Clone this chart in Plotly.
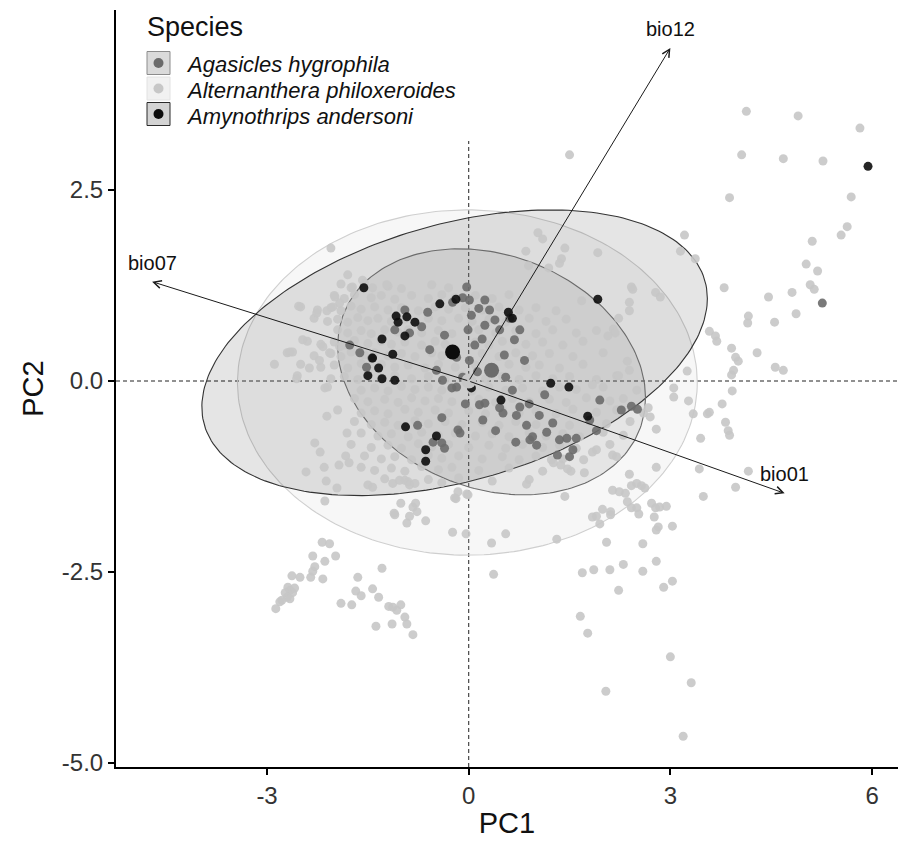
import numpy as np
import plotly.graph_objects as go

# ---------------- data (PC scores) ----------------
species = ["Agasicles hygrophila", "Alternanthera philoxeroides", "Amynothrips andersoni"]

# Alternanthera philoxeroides: outliers upper right
alt_upper_right = [
    (1.50, 2.96), (4.06, 2.96), (4.68, 2.91), (5.27, 2.88), (3.88, 2.40), (5.69, 2.41),
    (3.21, 1.91), (5.63, 2.02), (5.54, 1.91), (5.11, 1.83), (3.15, 1.70), (3.37, 1.60),
    (5.02, 1.53), (5.19, 1.44), (5.08, 1.26), (5.14, 1.20), (3.80, 1.22), (4.46, 1.10),
    (4.81, 1.16), (4.16, 0.85), (4.15, 0.76), (4.55, 0.77), (4.87, 0.88), (3.58, 0.65),
    (3.67, 0.59), (3.69, 0.52), (3.91, 0.43), (3.97, 0.31), (4.01, 0.26), (4.29, 0.37),
    (3.94, 0.14), (3.91, 0.08), (4.56, 0.18), (4.68, 0.14), (3.25, 0.13), (3.92, -0.13),
    (3.05, -0.09), (4.13, 3.53), (4.90, 3.47), (5.82, 3.31),
    (1.92, 1.68), (1.03, 1.94), (1.10, 1.86), (0.85, 1.70), (1.43, 1.74), (1.38, 1.60),
    (1.35, 1.54), (0.89, 1.51), (1.19, 1.48), (2.42, 1.23), (2.44, 1.20), (2.78, 1.16),
    (2.85, 1.10), (2.39, 1.03), (2.39, 0.92), (2.23, 0.82), (1.68, 1.05), (2.15, 0.68),
    (2.18, 0.63), (2.07, 0.59), (2.36, 0.26), (2.39, 0.14), (2.23, 0.07), (1.84, -0.05),
]

# Alternanthera philoxeroides: lower right
alt_lower_right = [
    (3.05, -0.21), (3.27, -0.26), (3.34, -0.43), (3.77, -0.30), (3.58, -0.41), (3.55, -0.43),
    (3.82, -0.54), (3.86, -0.65), (3.88, -0.71), (3.45, -0.75), (3.43, -1.15), (4.16, -1.18),
    (3.97, -1.39), (3.49, -1.51), (2.79, -1.13), (2.67, -0.35), (2.70, -0.47), (2.79, -0.63),
    (2.39, -1.22), (2.14, -1.43), (2.24, -1.45), (2.33, -1.47), (2.42, -1.37), (2.50, -1.34),
    (2.57, -1.37), (2.62, -1.40), (2.36, -1.58), (2.42, -1.66), (2.50, -1.66), (2.53, -1.74),
    (1.99, -1.68), (2.11, -1.71), (2.11, -1.75), (1.90, -1.77), (1.84, -1.78), (1.95, -1.87),
    (2.72, -1.60), (2.78, -1.66), (2.84, -1.65), (2.94, -1.64), (2.76, -1.78), (2.82, -1.91),
    (2.79, -1.95), (3.03, -1.90), (2.05, -2.11), (2.59, -2.13), (1.31, -2.07), (0.55, -2.00),
    (0.34, -2.12), (-0.04, -2.00), (-0.24, -1.98), (2.79, -2.36), (2.30, -2.40), (2.10, -2.47),
    (1.86, -2.47), (1.69, -2.51), (2.59, -2.49), (3.03, -2.62), (2.90, -2.70), (2.23, -2.74),
    (0.37, -2.53), (1.66, -3.08), (1.77, -3.30), (1.43, -1.51), (0.86, -1.35), (-0.21, -1.53),
    (-0.03, -1.48), (1.72, -1.20), (1.52, -1.18), (1.47, -1.15), (1.26, -1.07), (1.37, -1.10),
    (2.14, -0.97), (2.20, -0.99), (1.90, -0.90), (1.84, -0.93), (1.71, -1.03), (1.23, -1.03),
    (3.00, -3.61), (3.31, -3.95), (2.04, -4.06), (3.19, -4.65),
]

# Alternanthera philoxeroides: lower left
alt_lower_left = [
    (-2.18, -2.11), (-2.07, -2.13), (-2.32, -2.29), (-2.14, -2.36), (-1.98, -2.29), (-2.29, -2.43),
    (-2.32, -2.49), (-2.35, -2.57), (-2.51, -2.57), (-2.63, -2.55), (-2.17, -2.59), (-2.69, -2.70),
    (-2.66, -2.74), (-2.73, -2.77), (-2.62, -2.77), (-2.70, -2.83), (-2.78, -2.87), (-2.81, -2.89),
    (-2.66, -2.85), (-2.59, -2.71), (-2.87, -2.98), (-1.65, -2.57), (-1.29, -2.45), (-1.68, -2.75),
    (-1.60, -2.81), (-1.43, -2.72), (-1.34, -2.83), (-1.90, -2.91), (-1.74, -2.93), (-1.19, -2.95),
    (-1.13, -2.96), (-1.01, -2.93), (-1.07, -3.00), (-0.95, -3.09), (-0.92, -3.18), (-1.38, -3.21),
    (-1.14, -3.18), (-0.83, -3.32),
    (-2.14, -1.57), (-1.01, -1.60), (-0.79, -1.60), (-0.83, -1.65), (-0.77, -1.71), (-0.88, -1.77),
    (-0.92, -1.86), (-0.64, -1.83), (-1.11, -1.73), (-1.10, -1.75), (-0.16, -1.45), (-0.19, -1.54),
    (-0.01, -1.49),
    (-2.11, -0.46), (-1.81, -0.68), (-2.29, -0.81), (-2.21, -0.93), (-2.15, -1.13), (-2.42, -1.19),
    (-2.12, -1.31), (-1.96, -1.40), (-1.93, -1.10), (-1.78, -1.07), (-1.83, -0.98), (-1.50, -1.36),
    (-1.43, -1.39), (-1.13, -1.34), (-1.03, -1.30), (-0.95, -1.30), (-0.88, -1.36), (-0.80, -1.34),
]

# Alternanthera philoxeroides: upper left fringe
alt_upper_left = [
    (-2.05, 1.74), (-1.80, 1.39), (-2.53, 0.98), (-2.26, 0.89), (-2.11, 0.92), (-1.99, 1.10),
    (-1.92, 1.02), (-2.02, 0.97), (-1.73, 1.23), (-1.58, 1.32), (-1.43, 1.22), (-1.22, 1.26),
    (-2.47, 0.54), (-2.66, 0.38), (-2.62, 0.38), (-2.89, 0.22), (-2.56, 0.03), (-2.14, -0.09),
    (-2.37, 0.17), (-2.22, 0.27), (-2.07, 0.37), (-1.92, 0.45), (-2.17, 0.45),
]

# Alternanthera philoxeroides: dense core
alt_core = [
    (-1.90, 1.27), (-1.75, 1.22), (-1.55, 1.28), (-1.20, 1.24), (-1.00, 1.21), (-0.55, 1.26), (-0.30, 1.22),
    (-2.00, 1.12), (-1.85, 1.08), (-1.70, 1.13), (-1.45, 1.09), (-1.30, 1.12), (-1.10, 1.07), (-0.85, 1.12),
    (-0.60, 1.08), (-0.40, 1.13), (-0.20, 1.09), (0.10, 1.12), (0.35, 1.08), (0.60, 1.13),
    (-2.50, 0.97), (-2.25, 0.93), (-2.05, 0.96), (-1.90, 0.92), (-1.75, 0.98), (-1.60, 0.94), (-1.40, 0.97),
    (-1.20, 0.93), (-1.00, 0.96), (-0.75, 0.92), (-0.50, 0.97), (-0.30, 0.94), (-0.05, 0.96), (0.20, 0.93),
    (0.45, 0.97), (0.75, 0.93), (1.00, 0.96), (1.30, 0.92),
    (-2.30, 0.82), (-2.10, 0.78), (-1.95, 0.81), (-1.80, 0.77), (-1.65, 0.83), (-1.50, 0.79), (-1.35, 0.82),
    (-1.15, 0.78), (-0.95, 0.81), (-0.80, 0.77), (-0.60, 0.82), (-0.40, 0.79), (-0.15, 0.82), (0.05, 0.78),
    (0.30, 0.81), (0.55, 0.77), (0.90, 0.82), (1.15, 0.78), (1.45, 0.81),
    (-1.95, 0.67), (-1.80, 0.63), (-1.60, 0.66), (-1.45, 0.62), (-1.25, 0.67), (-1.05, 0.64), (-0.90, 0.67),
    (-0.70, 0.63), (-0.45, 0.66), (-0.25, 0.62), (0.15, 0.67), (0.40, 0.63), (0.70, 0.66), (1.00, 0.62),
    (1.25, 0.67), (1.60, 0.63), (1.90, 0.66),
    (-2.40, 0.52), (-2.20, 0.48), (-2.00, 0.51), (-1.85, 0.47), (-1.70, 0.53), (-1.50, 0.49), (-1.30, 0.52),
    (-1.15, 0.48), (-0.95, 0.51), (-0.70, 0.47), (-0.50, 0.52), (-0.35, 0.48), (0.10, 0.51), (0.30, 0.47),
    (0.50, 0.52), (0.85, 0.48), (1.10, 0.51), (1.40, 0.47), (1.70, 0.52),
    (-2.70, 0.37), (-2.30, 0.33), (-2.05, 0.36), (-1.90, 0.32), (-1.75, 0.38), (-1.55, 0.34), (-1.40, 0.37),
    (-1.20, 0.33), (-1.00, 0.36), (-0.80, 0.32), (-0.55, 0.37), (-0.40, 0.33), (0.20, 0.36), (0.45, 0.32),
    (0.70, 0.37), (0.95, 0.33), (1.20, 0.36), (1.55, 0.32), (2.00, 0.37),
    (-2.50, 0.22), (-2.20, 0.18), (-2.00, 0.21), (-1.80, 0.17), (-1.60, 0.23), (-1.45, 0.19), (-1.30, 0.22),
    (-1.10, 0.18), (-0.90, 0.21), (-0.65, 0.17), (-0.45, 0.22), (-0.20, 0.18), (0.10, 0.21), (0.30, 0.17),
    (0.60, 0.22), (0.85, 0.18), (1.05, 0.21), (1.35, 0.17), (1.70, 0.22),
    (-2.55, 0.07), (-2.05, 0.03), (-1.85, 0.06), (-1.65, 0.02), (-1.50, 0.08), (-1.30, 0.04), (-1.10, 0.07),
    (-0.85, 0.03), (-0.60, 0.06), (-0.35, 0.02), (-0.10, 0.07), (0.25, 0.03), (0.50, 0.06), (0.75, 0.02),
    (1.00, 0.07), (1.25, 0.03), (1.50, 0.06), (1.90, 0.02), (2.20, 0.07),
    (-2.10, -0.08), (-1.60, -0.12), (-1.40, -0.09), (-1.20, -0.13), (-1.00, -0.07), (-0.80, -0.11),
    (-0.60, -0.08), (-0.40, -0.12), (-0.20, -0.09), (0.05, -0.13), (0.30, -0.08), (0.55, -0.12),
    (0.80, -0.09), (1.10, -0.13), (1.35, -0.08), (1.60, -0.11), (2.00, -0.08), (2.50, -0.12),
    (-1.70, -0.23), (-1.50, -0.27), (-1.25, -0.24), (-1.05, -0.28), (-0.85, -0.22), (-0.65, -0.26),
    (-0.45, -0.23), (-0.25, -0.27), (0.15, -0.24), (0.40, -0.28), (0.65, -0.23), (0.90, -0.27),
    (1.20, -0.24), (1.45, -0.28), (1.75, -0.22), (2.10, -0.26), (2.30, -0.23),
    (-1.95, -0.38), (-1.60, -0.42), (-1.40, -0.39), (-1.20, -0.43), (-0.95, -0.37), (-0.75, -0.41),
    (-0.50, -0.38), (-0.30, -0.42), (0.00, -0.39), (0.25, -0.43), (0.50, -0.38), (0.75, -0.42),
    (1.00, -0.39), (1.30, -0.43), (1.55, -0.37), (1.90, -0.41), (2.20, -0.38), (2.60, -0.42),
    (-1.70, -0.53), (-1.45, -0.57), (-1.25, -0.54), (-1.05, -0.58), (-0.80, -0.52), (-0.60, -0.56),
    (-0.35, -0.53), (-0.10, -0.57), (0.20, -0.54), (0.45, -0.58), (0.70, -0.53), (1.00, -0.57),
    (1.25, -0.54), (1.50, -0.58), (1.80, -0.52), (2.05, -0.56), (2.40, -0.53),
    (-1.60, -0.68), (-1.35, -0.72), (-1.15, -0.69), (-0.90, -0.73), (-0.70, -0.67), (-0.45, -0.71),
    (-0.20, -0.68), (0.10, -0.72), (0.35, -0.69), (0.60, -0.73), (0.90, -0.68), (1.15, -0.72),
    (1.40, -0.69), (1.65, -0.73), (2.00, -0.67), (2.30, -0.71),
    (-1.75, -0.83), (-1.45, -0.87), (-1.20, -0.84), (-1.00, -0.88), (-0.75, -0.82), (-0.55, -0.86),
    (-0.30, -0.83), (0.00, -0.87), (0.30, -0.84), (0.55, -0.88), (0.80, -0.83), (1.10, -0.87),
    (1.35, -0.84), (1.60, -0.88), (2.10, -0.83),
    (-1.55, -0.98), (-1.30, -1.02), (-1.10, -0.99), (-0.85, -1.03), (-0.60, -0.97), (-0.40, -1.01),
    (-0.15, -0.98), (0.20, -1.02), (0.50, -0.99), (0.75, -1.03), (1.00, -0.98), (1.40, -1.02),
    (-1.60, -1.13), (-1.40, -1.17), (-1.15, -1.14), (-0.95, -1.18), (-0.70, -1.12), (-0.45, -1.16),
    (-0.25, -1.13), (0.15, -1.17), (0.60, -1.14), (1.10, -1.18),
    (-1.25, -1.28), (-0.90, -1.32), (-0.60, -1.29), (-0.40, -1.33), (-0.15, -1.27), (0.35, -1.31),
    (0.90, -1.29),
]

# Agasicles hygrophila
aga_points = [
    (-0.03, 1.23), (0.01, 1.06), (0.04, 0.86), (-0.01, 0.67), (0.09, 0.47), (0.01, 0.27), (0.13, 0.12),
    (0.24, 1.06), (0.31, 0.93), (0.39, 0.80), (0.46, 0.67), (0.24, 0.73), (0.76, 0.67), (0.61, 0.82),
    (0.68, 0.54), (0.53, 0.34), (0.83, 0.27), (0.91, -0.77), (1.01, -0.84), (0.95, -0.73), (1.16, -0.67),
    (1.35, -0.77), (1.46, -0.75), (1.55, -0.90), (0.51, -0.42), (0.46, -0.35), (0.16, -0.31), (0.24, -0.29),
    (0.71, -0.45), (0.76, -0.34), (1.60, -0.75), (2.27, -0.38), (2.42, -0.33), (2.51, -0.37), (1.32, -0.97),
    (1.50, -0.99), (0.21, -0.51), (0.65, -0.12), (0.86, -0.58), (1.13, -0.18), (1.80, -0.51), (1.95, -0.25),
    (-0.95, 0.93), (-0.88, 0.63), (-0.70, 0.71), (-0.61, 0.90), (-0.24, 1.03), (-0.09, 1.09), (-1.62, 0.37),
    (-1.52, 0.18), (-1.44, 0.30), (-0.48, 0.14), (-0.18, 0.31), (-0.09, 0.05), (-0.39, 0.01), (-0.76, -0.58),
    (-0.40, -0.48), (-0.53, -0.80), (-0.40, -0.81), (-0.16, -0.64), (-0.13, -0.68), (-0.36, -0.88),
    (-0.25, -0.09), (-0.18, -0.08), (-0.58, 0.41), (-0.36, 0.60), (-1.10, 0.67), (-1.77, 0.47),
    (0.15, 0.95), (0.20, 0.55), (0.55, 0.05), (0.90, -0.30), (1.25, -0.55), (1.05, -0.45), (0.40, -0.65),
    (-0.05, -0.30), (0.70, -0.80), (1.90, -0.65), (5.26, 1.02),
]

# Amynothrips andersoni
amy_points = [
    (-1.56, 1.22), (-0.43, 1.01), (-0.19, 1.07), (-1.08, 0.85), (-0.92, 0.84), (-1.05, 0.77), (-0.80, 0.77),
    (-0.95, 0.59), (-1.29, 0.55), (-1.13, 0.35), (-1.43, 0.30), (-1.34, 0.17), (-1.50, 0.07), (-1.29, 0.03),
    (-1.10, 0.01), (-0.94, -0.60), (-0.48, -0.72), (-0.64, -0.90), (-0.64, -1.05), (0.59, 0.90), (0.65, 0.82),
    (1.92, 1.07), (1.22, -0.03), (1.49, -0.08), (0.04, -0.09), (0.48, -0.25), (1.77, -0.46), (5.94, 2.81),
]

# species centroids (PC1, PC2)
centroid_pc1 = [0.34, 0.00, -0.24]
centroid_pc2 = [0.14, 0.00, 0.38]

# ellipse parameters: centre, half-extents, correlation
ell_cx = [0.34, -0.02, -0.21]
ell_cy = [0.12, -0.02, 0.37]
ell_sx = [2.29, 3.42, 3.76]
ell_sy = [1.61, 2.26, 1.87]
ell_rho = [-0.21, 0.0, 0.38]

# variable loadings (arrows)
var_names = ["bio01", "bio07", "bio12"]
load_pc1 = [4.70, -4.71, 3.00]
load_pc2 = [-1.47, 1.30, 4.36]

x_tickvals = [-3, 0, 3, 6]
x_ticktext = ["-3", "0", "3", "6"]
y_tickvals = [2.5, 0.0, -2.5, -5.0]
y_ticktext = ["2.5", "0.0", "-2.5", "-5.0"]

# ---------------- styles ----------------
point_colors = ["#6b6b6b", "#c7c7c7", "#0d0d0d"]
ell_line = ["#6b6b6b", "#cfcfcf", "#333333"]
ell_fill = ["rgba(107,107,107,0.13)", "rgba(200,200,200,0.15)", "rgba(0,0,0,0.10)"]
key_fill = ["#dadada", "#f1f1f1", "#d3d3d3"]
key_line = ["#8c8c8c", "#e2e2e2", "#2a2a2a"]
FONT = "Liberation Sans, Arial, sans-serif"

# the page body adds an 8px margin, so the figure is sized to fit inside it
OFF = 8
W, H = 906 - 2 * OFF, 847 - 2 * OFF
ML, MR, MT, MB = 108, 0, 2, 72


def px_x(px):
    return (px - OFF - ML) / (W - ML - MR)


def px_y(py):
    return (H + OFF - MB - py) / (H - MT - MB)


def ellipse_path(cx, cy, sx, sy, rho, n=240):
    t = np.linspace(0, 2 * np.pi, n)
    cov = np.array([[sx * sx, rho * sx * sy], [rho * sx * sy, sy * sy]])
    L = np.linalg.cholesky(cov)
    pts = L @ np.vstack([np.cos(t), np.sin(t)])
    return cx + pts[0], cy + pts[1]


fig = go.Figure()

# ellipses
for i in [1, 2, 0]:
    ex, ey = ellipse_path(ell_cx[i], ell_cy[i], ell_sx[i], ell_sy[i], ell_rho[i])
    fig.add_trace(go.Scatter(x=ex, y=ey, mode="lines", fill="toself",
                             fillcolor=ell_fill[i], line=dict(color=ell_line[i], width=1.1),
                             hoverinfo="skip", showlegend=False))

alt_all = alt_core + alt_upper_left + alt_lower_left + alt_lower_right + alt_upper_right
groups = {0: aga_points, 1: alt_all, 2: amy_points}
for i in [1, 0, 2]:
    pts = groups[i]
    fig.add_trace(go.Scatter(
        x=[p[0] for p in pts], y=[p[1] for p in pts], mode="markers",
        name=species[i], showlegend=False,
        marker=dict(color=point_colors[i], size=9, opacity=0.9, line=dict(width=0)),
    ))

# centroids
for i in [1, 0, 2]:
    fig.add_trace(go.Scatter(x=[centroid_pc1[i]], y=[centroid_pc2[i]], mode="markers",
                             marker=dict(color=point_colors[i], size=15, line=dict(width=0)),
                             showlegend=False, hoverinfo="skip"))

# reference lines
fig.add_hline(y=0, line=dict(color="#222222", width=1, dash="4px,3px"), layer="below")
fig.add_vline(x=0, line=dict(color="#222222", width=1, dash="4px,3px"), layer="below")

# loading arrows and labels
for name, lx, ly in zip(var_names, load_pc1, load_pc2):
    fig.add_annotation(x=lx, y=ly, ax=0, ay=0, xref="x", yref="y", axref="x", ayref="y",
                       text="", showarrow=True, arrowhead=5, arrowsize=1.5, arrowwidth=1,
                       arrowcolor="#1a1a1a")
    fig.add_annotation(x=lx, y=ly, xref="x", yref="y", text=name, showarrow=False,
                       yshift=19, font=dict(family=FONT, size=20, color="#111111"))

# legend (drawn like the ggplot legend: white panel, keys with box + dot)
fig.add_shape(type="rect", xref="paper", yref="paper", x0=px_x(135), x1=px_x(512),
              y0=px_y(141), y1=px_y(10), fillcolor="white", line=dict(width=0), layer="above")
fig.add_annotation(xref="paper", yref="paper", x=px_x(145), y=px_y(10), xanchor="left",
                   yanchor="top", text="Species", showarrow=False,
                   font=dict(family=FONT, size=27, color="#111111"))
key_centres = [63, 88.5, 114]
for i, cy in enumerate(key_centres):
    fig.add_shape(type="rect", xref="paper", yref="paper",
                  x0=px_x(147), x1=px_x(170), y0=px_y(cy + 11.5), y1=px_y(cy - 11.5),
                  fillcolor=key_fill[i], line=dict(color=key_line[i], width=1), layer="above")
    fig.add_shape(type="circle", xref="paper", yref="paper",
                  x0=px_x(153.5), x1=px_x(163.5), y0=px_y(cy + 5), y1=px_y(cy - 5),
                  fillcolor=point_colors[i], line=dict(width=0), layer="above")
    fig.add_annotation(xref="paper", yref="paper", x=px_x(184), y=px_y(cy + 2), xanchor="left",
                       yanchor="middle", text="<i>" + species[i] + "</i>", showarrow=False,
                       font=dict(family=FONT, size=22, color="#111111"))

fig.update_layout(
    width=W, height=H,
    margin=dict(l=ML, r=MR, t=MT, b=MB, autoexpand=False),
    paper_bgcolor="white", plot_bgcolor="white",
    font=dict(family=FONT, color="#111111"),
    showlegend=False,
    xaxis=dict(
        range=[-5.247, 6.386], showgrid=False, zeroline=False, automargin=False,
        showline=True, linecolor="black", linewidth=2,
        ticks="outside", ticklen=6, tickwidth=2, tickcolor="black",
        tickvals=x_tickvals, ticktext=x_ticktext,
        tickfont=dict(family=FONT, size=24, color="#333333"),
        title=dict(text="PC1", font=dict(family=FONT, size=29, color="#111111"), standoff=6),
    ),
    yaxis=dict(
        range=[-5.052, 4.856], showgrid=False, zeroline=False, automargin=False,
        showline=True, linecolor="black", linewidth=2,
        ticks="outside", ticklen=6, tickwidth=2, tickcolor="black",
        tickvals=y_tickvals, ticktext=y_ticktext,
        tickfont=dict(family=FONT, size=24, color="#333333"),
        title=dict(text="PC2", font=dict(family=FONT, size=29, color="#111111"), standoff=10),
    ),
)

fig.write_html("out.html")
